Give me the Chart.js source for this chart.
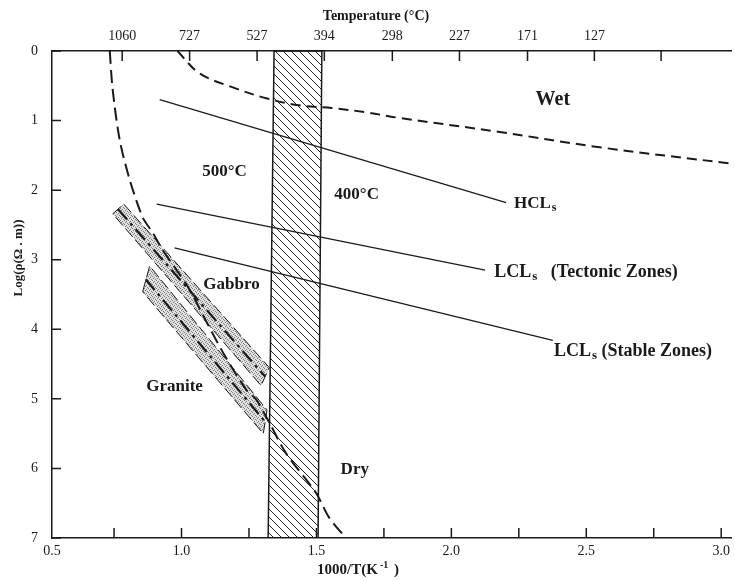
<!DOCTYPE html>
<html>
<head>
<meta charset="utf-8">
<script src="https://cdn.jsdelivr.net/npm/chart.js@4.4.0/dist/chart.umd.min.js"></script>
<style>
  html, body { margin: 0; padding: 0; background: #fff; }
  #wrap { width: 735px; height: 581px; }
</style>
</head>
<body>
<div id="wrap"><canvas id="resChart" width="735" height="581"></canvas></div>
<script>
// bottom axis, 1000/T (K^-1)
const invTTicks = [0.52, 0.75, 1.0, 1.25, 1.5, 1.75, 2.0, 2.25, 2.5, 2.75, 3.0];
const invTLabels = ['0.5', '', '1.0', '', '1.5', '', '2.0', '', '2.5', '', '3.0'];
// top axis, temperature in deg C
const tempTicks = [1060, 727, 527, 394, 298, 227, 171, 127, 91];
const tempLabels = ['1060', '727', '527', '394', '298', '227', '171', '127', ''];
// left axis, log resistivity
const logRhoTicks = [0, 1, 2, 3, 4, 5, 6, 7];

// long dashed curve on the left
const dryCurveX = [0.734, 0.745, 0.771, 0.808, 0.856, 0.893, 0.930, 0.982, 1.030, 1.092, 1.159, 1.240, 1.277, 1.325, 1.387, 1.498, 1.546, 1.609];
const dryCurveY = [0, 0.56, 1.28, 1.85, 2.39, 2.61, 2.86, 3.15, 3.43, 3.89, 4.37, 4.87, 5.01, 5.34, 5.78, 6.35, 6.70, 7.0];
// short dashed curve at the top
const wetCurveX = [0.985, 1.066, 1.188, 1.314, 1.435, 1.557, 1.683, 1.804, 2.173, 2.542, 3.04];
const wetCurveY = [0, 0.32, 0.52, 0.68, 0.78, 0.82, 0.88, 0.96, 1.16, 1.38, 1.62];

// conductivity lines
const hclX = [0.919, 2.203];
const hclY = [0.70, 2.18];
const lclTectX = [0.908, 2.125];
const lclTectY = [2.20, 3.15];
const lclStableX = [0.974, 2.376];
const lclStableY = [2.83, 4.16];

// 400-500 C box
const boxX = [1.343, 1.520, 1.506, 1.321, 1.343];
const boxY = [0, 0, 7, 7, 0];

// rock bands
const gabbroX = [0.745, 0.786, 1.325, 1.295, 0.745];
const gabbroY = [2.34, 2.20, 4.55, 4.81, 2.34];
const gabbroMidX = [0.764, 1.310];
const gabbroMidY = [2.27, 4.68];
const graniteX = [0.856, 0.882, 1.317, 1.303, 0.856];
const graniteY = [3.46, 3.09, 5.16, 5.50, 3.46];
const graniteMidX = [0.867, 1.310];
const graniteMidY = [3.28, 5.33];

const notes = [
  { text: 'Wet', x: 2.376, y: 0.70, size: 20, align: 'center' },
  { text: '500°C', x: 1.159, y: 1.74, size: 17, align: 'center' },
  { text: '400°C', x: 1.649, y: 2.07, size: 17, align: 'center' },
  { text: 'HCL', sub: 's', x: 2.232, y: 2.20, size: 17, align: 'left' },
  { text: 'LCL', sub: 's', rest: '   (Tectonic Zones)', x: 2.159, y: 3.18, size: 18, align: 'left' },
  { text: 'LCL', sub: 's', rest: ' (Stable Zones)', x: 2.380, y: 4.32, size: 18, align: 'left' },
  { text: 'Gabbro', x: 1.185, y: 3.36, size: 17, align: 'center' },
  { text: 'Granite', x: 0.974, y: 4.83, size: 17, align: 'center' },
  { text: 'Dry', x: 1.642, y: 6.02, size: 17, align: 'center' }
];

const FONT = '"Liberation Serif", "Times New Roman", serif';
const INK = '#1a1a1a';

function pts(xs, ys) {
  return xs.map((x, i) => ({ x: x, y: ys[i] }));
}

function makeHatch() {
  const c = document.createElement('canvas');
  c.width = 8; c.height = 8;
  const g = c.getContext('2d');
  g.strokeStyle = '#222';
  g.lineWidth = 1;
  g.beginPath();
  g.moveTo(0, 0); g.lineTo(8, 8);
  g.moveTo(-1, 7); g.lineTo(1, 9);
  g.moveTo(7, -1); g.lineTo(9, 1);
  g.stroke();
  return g.createPattern(c, 'repeat');
}

function makeStipple() {
  const c = document.createElement('canvas');
  c.width = 4; c.height = 4;
  const g = c.getContext('2d');
  g.fillStyle = '#e0e0e0';
  g.fillRect(0, 0, 4, 4);
  g.fillStyle = '#7e7e7e';
  [[0, 0], [2, 1], [1, 2], [3, 3]].forEach(p => g.fillRect(p[0], p[1], 1, 1));
  return g.createPattern(c, 'repeat');
}

const hatch = makeHatch();
const stipple = makeStipple();

function lineSet(data, width, dash, tension) {
  return {
    data: data,
    showLine: true,
    pointRadius: 0,
    borderColor: INK,
    borderWidth: width,
    borderDash: dash || [],
    tension: tension || 0,
    fill: false
  };
}

// inward tick marks
const innerTicks = {
  id: 'innerTicks',
  afterDraw(chart) {
    const { ctx, chartArea: a, scales } = chart;
    ctx.save();
    ctx.strokeStyle = INK;
    ctx.lineWidth = 1.5;
    ctx.beginPath();
    scales.x.ticks.forEach(t => {
      const p = scales.x.getPixelForValue(t.value);
      if (p <= a.left + 2) return;
      ctx.moveTo(p, a.bottom); ctx.lineTo(p, a.bottom - 10);
    });
    scales.x2.ticks.forEach(t => {
      const p = scales.x2.getPixelForValue(t.value);
      ctx.moveTo(p, a.top); ctx.lineTo(p, a.top + 10);
    });
    scales.y.ticks.forEach(t => {
      const p = scales.y.getPixelForValue(t.value);
      ctx.moveTo(a.left, p); ctx.lineTo(a.left + 9, p);
    });
    ctx.stroke();
    ctx.restore();
  }
};

// text inside the plot and axis titles
const textLayer = {
  id: 'textLayer',
  afterDraw(chart) {
    const { ctx, chartArea: a, scales } = chart;
    ctx.save();
    ctx.fillStyle = INK;
    ctx.textBaseline = 'middle';
    notes.forEach(n => {
      let px = scales.x.getPixelForValue(n.x);
      const py = scales.y.getPixelForValue(n.y);
      ctx.font = 'bold ' + n.size + 'px ' + FONT;
      if (!n.sub) {
        ctx.textAlign = n.align;
        ctx.fillText(n.text, px, py);
        return;
      }
      ctx.textAlign = 'left';
      ctx.fillText(n.text, px, py);
      px += ctx.measureText(n.text).width + 1;
      ctx.font = 'bold ' + Math.round(n.size * 0.7) + 'px ' + FONT;
      ctx.fillText(n.sub, px, py + 4);
      px += ctx.measureText(n.sub).width;
      if (n.rest) {
        ctx.font = 'bold ' + n.size + 'px ' + FONT;
        ctx.fillText(n.rest, px, py);
      }
    });

    // top title
    ctx.font = 'bold 14px ' + FONT;
    ctx.textAlign = 'center';
    ctx.fillText('Temperature (°C)', a.left + 324, 16);

    // bottom title with superscript
    const base = '1000/T(K';
    const sup = '-1';
    const end = ' )';
    ctx.font = 'bold 15px ' + FONT;
    const w1 = ctx.measureText(base).width;
    const w3 = ctx.measureText(end).width;
    ctx.font = 'bold 10px ' + FONT;
    const w2 = ctx.measureText(sup).width + 2;
    let bx = a.left + 305 - (w1 + w2 + w3) / 2;
    const by = a.bottom + 32;
    ctx.textAlign = 'left';
    ctx.font = 'bold 15px ' + FONT;
    ctx.fillText(base, bx, by);
    bx += w1 + 2;
    ctx.font = 'bold 10px ' + FONT;
    ctx.fillText(sup, bx, by - 5);
    bx += w2;
    ctx.font = 'bold 15px ' + FONT;
    ctx.fillText(end, bx, by);

    // left title, rotated
    ctx.save();
    ctx.translate(19, 258);
    ctx.rotate(-Math.PI / 2);
    ctx.textAlign = 'center';
    ctx.font = 'bold 13px ' + FONT;
    ctx.fillText('Log(\u03C1(\u03A9 . m))', 0, 0);
    ctx.restore();

    ctx.restore();
  }
};

const ctx = document.getElementById('resChart').getContext('2d');
const chart = new Chart(ctx, {
  type: 'scatter',
  data: {
    datasets: [
      lineSet(pts(hclX, hclY), 1.2),
      lineSet(pts(lclTectX, lclTectY), 1.2),
      lineSet(pts(lclStableX, lclStableY), 1.2),
      lineSet(pts(wetCurveX, wetCurveY), 2, [10, 6], 0.35),
      lineSet(pts(dryCurveX, dryCurveY), 2, [13, 6], 0.3),
      lineSet(pts(gabbroMidX, gabbroMidY), 2.2, [14, 5, 3, 5]),
      lineSet(pts(graniteMidX, graniteMidY), 2.2, [14, 5, 3, 5]),
      Object.assign(lineSet(pts(gabbroX, gabbroY), 1, [11, 4]), { fill: 'shape', backgroundColor: stipple }),
      Object.assign(lineSet(pts(graniteX, graniteY), 1, [11, 4]), { fill: 'shape', backgroundColor: stipple }),
      Object.assign(lineSet(pts(boxX, boxY), 1.5), { fill: 'shape', backgroundColor: hatch })
    ]
  },
  options: {
    responsive: false,
    animation: false,
    devicePixelRatio: 1,
    layout: { padding: 0 },
    plugins: { legend: { display: false }, tooltip: { enabled: false } },
    scales: {
      x: {
        type: 'linear',
        position: 'bottom',
        min: 0.52,
        max: 3.04,
        afterBuildTicks: s => { s.ticks = invTTicks.map(v => ({ value: v })); },
        afterFit: s => { s.height = 43; },
        ticks: {
          autoSkip: false,
          maxRotation: 0,
          padding: 5,
          color: INK,
          font: { family: FONT, size: 14 },
          callback: (v, i) => invTLabels[i]
        },
        grid: { drawOnChartArea: false, drawTicks: false },
        border: { color: INK, width: 1.5 }
      },
      x2: {
        type: 'linear',
        position: 'top',
        min: 0.49,
        max: 3.01,
        afterBuildTicks: s => { s.ticks = tempTicks.map(t => ({ value: 1000 / (t + 273) })); },
        afterFit: s => { s.height = 51; },
        ticks: {
          autoSkip: false,
          maxRotation: 0,
          padding: 6,
          color: INK,
          font: { family: FONT, size: 14 },
          callback: (v, i) => tempLabels[i]
        },
        grid: { drawOnChartArea: false, drawTicks: false },
        border: { color: INK, width: 1.5 }
      },
      y: {
        type: 'linear',
        reverse: true,
        min: 0,
        max: 7,
        afterBuildTicks: s => { s.ticks = logRhoTicks.map(v => ({ value: v })); },
        afterFit: s => { s.width = 52; },
        ticks: {
          padding: 14,
          color: INK,
          font: { family: FONT, size: 14 },
          callback: v => String(v)
        },
        grid: { drawOnChartArea: false, drawTicks: false },
        border: { color: INK, width: 1.5 }
      }
    }
  },
  plugins: [innerTicks, textLayer]
});
</script>
</body>
</html>
